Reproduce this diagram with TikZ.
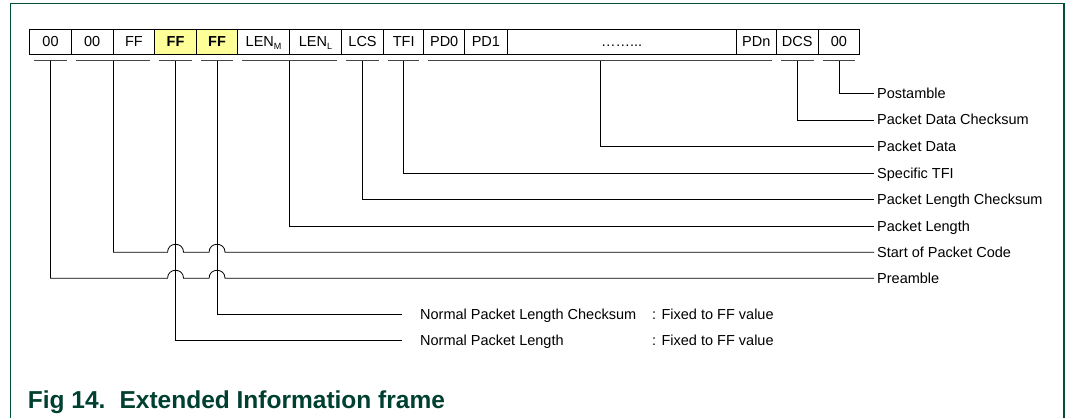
\documentclass[tikz,border=0pt]{standalone}
\usepackage{fontspec}
\setmainfont{Liberation Sans}
\usetikzlibrary{calc}
\definecolor{frameg}{RGB}{0,78,56}
\definecolor{capg}{RGB}{0,64,48}
\definecolor{ffyel}{RGB}{255,255,153}
\definecolor{brk}{RGB}{70,70,70}
\tikzset{
  txt/.style={font=\fontsize{14.5}{16}\selectfont, text height=10pt, text depth=0pt},
  cell/.style={txt, draw=black, line width=0.8pt, minimum height=25pt, inner sep=0pt, anchor=west},
  hl/.style={cell, fill=ffyel, font=\fontsize{14.5}{16}\selectfont\bfseries},
  brack/.style={draw=brk, line width=1.2pt},
  lead/.style={draw=black, line width=0.8pt},
  lbl/.style={txt, anchor=west, inner xsep=3pt, inner ysep=0pt},
}
\newcommand{\hop}[1]{.. controls +(0,-10.7) and +(0,-10.7) .. +(16,0)}
\begin{document}
\begin{tikzpicture}[x=1pt,y=-1pt]
\useasboundingbox (0,0) rectangle (1066,418);
% frame
\draw[frameg, line width=1.5pt] (10.3,418) -- (10.3,3.3) -- (1064,3.3) -- (1064,418);
% cells
\node[cell, minimum width=41.7pt] (c1) at (29.3,41.8) {00};
\node[cell, minimum width=41.7pt] (c2) at (71,41.8) {00};
\node[cell, minimum width=41.6pt] (c3) at (112.7,41.8) {FF};
\node[hl, minimum width=41.7pt] (c4) at (154.3,41.8) {FF};
\node[hl, minimum width=41.3pt] (c5) at (196,41.8) {FF};
\node[cell, minimum width=51.7pt] (c6) at (237.3,41.8) {LEN\raisebox{-3pt}{\fontsize{9}{9}\selectfont M}};
\node[cell, minimum width=52pt] (c7) at (289,41.8) {LEN\raisebox{-3pt}{\fontsize{9}{9}\selectfont L}};
\node[cell, minimum width=42.3pt] (c8) at (341,41.8) {LCS};
\node[cell, minimum width=40pt] (c9) at (383.3,41.8) {TFI};
\node[cell, minimum width=41pt] (c10) at (423.3,41.8) {PD0};
\node[cell, minimum width=42.4pt] (c11) at (464.3,41.8) {PD1};
\node[cell, minimum width=229pt] (c12) at (506.7,41.8) {……...};
\node[cell, minimum width=40.3pt] (c13) at (735.7,41.8) {PDn};
\node[cell, minimum width=41.7pt] (c14) at (776,41.8) {DCS};
\node[cell, minimum width=41.6pt] (c15) at (817.7,41.8) {00};
% brackets
\draw[brack] ($(c1.south west)+(5,6)$) -- ($(c1.south east)+(-5,6)$);
\draw[brack] ($(c2.south west)+(5,6)$) -- ($(c3.south east)+(-5,6)$);
\draw[brack] ($(c4.south west)+(5,6)$) -- ($(c4.south east)+(-5,6)$);
\draw[brack] ($(c5.south west)+(5,6)$) -- ($(c5.south east)+(-5,6)$);
\draw[brack] ($(c6.south west)+(5,6)$) -- ($(c7.south east)+(-5,6)$);
\draw[brack] ($(c8.south west)+(5,6)$) -- ($(c8.south east)+(-5,6)$);
\draw[brack] ($(c9.south west)+(5,6)$) -- ($(c9.south east)+(-5,6)$);
\draw[brack] ($(c10.south west)+(5,6)$) -- ($(c13.south east)+(-5,6)$);
\draw[brack] ($(c14.south west)+(5,6)$) -- ($(c14.south east)+(-5,6)$);
\draw[brack] ($(c15.south west)+(5,6)$) -- ($(c15.south east)+(-5,6)$);
\coordinate (b1) at ($(c1.south)+(0,6)$);
\coordinate (b2) at ($(c2.south east)+(0,6)$);
\coordinate (b4) at ($(c4.south)+(0,6)$);
\coordinate (b5) at ($(c5.south)+(0,6)$);
\coordinate (b6) at ($(c6.south east)+(0,6)$);
\coordinate (b8) at ($(c8.south)+(0,6)$);
\coordinate (b9) at ($(c9.south)+(0,6)$);
\coordinate (b10) at ($($(c10.south west)!0.5!(c13.south east)$)+(0,6)$);
\coordinate (b14) at ($(c14.south)+(0,6)$);
\coordinate (b15) at ($(c15.south)+(0,6)$);
% labels
\node[lbl] (lpost) at (874,93.3) {Postamble};
\node[lbl] (ldcs) at (874,119.9) {Packet Data Checksum};
\node[lbl] (lpd) at (874,146.5) {Packet Data};
\node[lbl] (ltfi) at (874,173.1) {Specific TFI};
\node[lbl] (llcs) at (874,199.7) {Packet Length Checksum};
\node[lbl] (llen) at (874,226.1) {Packet Length};
\node[lbl] (lsop) at (874,252.3) {Start of Packet Code};
\node[lbl] (lpre) at (874,278.3) {Preamble};
\node[lbl, inner xsep=0pt] (lnplc) at (420,314.3) {Normal Packet Length Checksum};
\node[lbl, inner xsep=0pt] (lnpl) at (420,340.3) {Normal Packet Length};
\node[lbl, inner xsep=0pt] (fix1) at (652,314.3) {: Fixed to FF value};
\node[lbl, inner xsep=0pt] (fix2) at (652,340.3) {: Fixed to FF value};
% leaders
\draw[lead] (b15) |- (lpost.west);
\draw[lead] (b14) |- (ldcs.west);
\draw[lead] (b10) |- (lpd.west);
\draw[lead] (b9) |- (ltfi.west);
\draw[lead] (b8) |- (llcs.west);
\draw[lead] (b6) |- (llen.west);
\draw[lead] (b2) |- ($(b4 |- lsop)+(-8,0)$) \hop{} -- ($(b5 |- lsop)+(-8,0)$) \hop{} -- (lsop.west);
\draw[lead] (b1) |- ($(b4 |- lpre)+(-8,0)$) \hop{} -- ($(b5 |- lpre)+(-8,0)$) \hop{} -- (lpre.west);
\draw[lead] (b5) |- ($(lnplc.west)+(-18,0)$);
\draw[lead] (b4) |- ($(lnpl.west)+(-18,0)$);
% caption
\node[anchor=base west, inner sep=0pt, font=\fontsize{24.5}{28}\selectfont\bfseries, text=capg] (cap) at (27.7,408) {Fig 14.\hspace{5pt} Extended Information frame};
\end{tikzpicture}
\end{document}
